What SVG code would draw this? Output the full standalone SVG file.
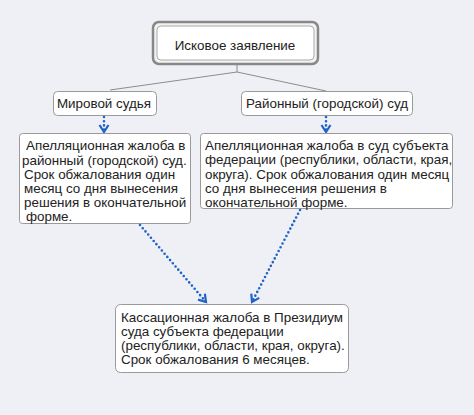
<svg xmlns="http://www.w3.org/2000/svg" width="474" height="415" viewBox="0 0 474 415">
<style>
text{font-family:"Liberation Sans",Arial,sans-serif;font-size:13.4px;fill:#222}
.box{fill:#fff;stroke:#9a9a9a;stroke-width:1}
.dot{fill:none;stroke:#1f63c6;stroke-width:2.6;stroke-dasharray:0 4.2;stroke-linecap:round}
.tree{fill:none;stroke:#8c8c8c;stroke-width:1}
</style>
<defs>
<marker id="chev" markerWidth="12" markerHeight="12" refX="9" refY="6" orient="auto" markerUnits="userSpaceOnUse">
<path d="M2,1.5 L9,6 L2,10.5" fill="none" stroke="#1f63c6" stroke-width="2.2"/>
</marker>
</defs>
<rect width="474" height="415" fill="#eef0f6"/>
<g id="connectors">
<path class="tree" d="M237,64 V72 L110,90 M237,72 L326,91"/>
<path class="dot" d="M104,117 V132" marker-end="url(#chev)"/>
<path class="dot" d="M326,117 V132" marker-end="url(#chev)"/>
<path class="dot" d="M140,225 L206,302" marker-end="url(#chev)"/>
<path class="dot" d="M300,210 L252,302" marker-end="url(#chev)"/>
</g>
<g id="n-isk">
<rect x="153" y="22" width="165" height="42" rx="6" fill="#f2f2f2" stroke="#888" stroke-width="2.5"/>
<rect x="157" y="26" width="157" height="34" rx="4" fill="#fff" stroke="#aaa" stroke-width="1"/>
<text x="235" y="50" text-anchor="middle" font-size="14.8">Исковое заявление</text>
</g>
<g id="n-mir">
<rect class="box" x="53.5" y="91.5" width="103" height="24" rx="4"/>
<text x="104" y="108" text-anchor="middle" font-size="13.7">Мировой судья</text>
</g>
<g id="n-rai">
<rect class="box" x="241.5" y="91.5" width="171" height="24" rx="4"/>
<text x="327" y="108" text-anchor="middle">Районный (городской) суд</text>
</g>
<g id="n-app1">
<rect class="box" x="19.5" y="133.5" width="171" height="90" rx="3" fill="#fbfbfb"/>
<text x="26" y="150">Апелляционная жалоба в</text>
<text x="22" y="165">районный (городской) суд.</text>
<text x="24" y="179">Срок обжалования один</text>
<text x="24" y="193">месяц со дня вынесения</text>
<text x="24" y="207">решения в окончательной</text>
<text x="26" y="221">форме.</text>
</g>
<g id="n-app2">
<rect class="box" x="200.5" y="133.5" width="252" height="75" rx="3" fill="#fbfbfb"/>
<text x="205" y="150">Апелляционная жалоба в суд субъекта</text>
<text x="205" y="164">федерации (республики, области, края,</text>
<text x="205" y="179">округа). Срок обжалования один месяц</text>
<text x="205" y="193">со дня вынесения решения в</text>
<text x="205" y="207">окончательной форме.</text>
</g>
<g id="n-kas">
<rect class="box" x="115.5" y="304.5" width="233" height="68" rx="5"/>
<text x="121" y="322">Кассационная жалоба в Президиум</text>
<text x="121" y="336">суда субъекта федерации</text>
<text x="121" y="350">(республики, области, края, округа).</text>
<text x="121" y="364">Срок обжалования 6 месяцев.</text>
</g>
</svg>
